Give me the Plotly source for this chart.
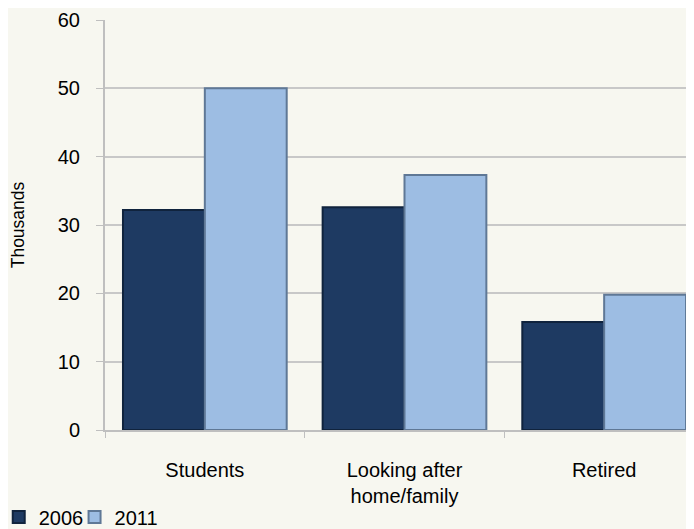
import plotly.graph_objects as go

categories = ["Students", "Looking after<br>home/family", "Retired"]
series_names = ["2006", "2011"]
values_2006 = [32.2, 32.6, 15.8]
values_2011 = [50.0, 37.3, 19.8]
y_ticks = [0, 10, 20, 30, 40, 50, 60]

fig = go.Figure()
fig.add_trace(go.Bar(
    name=series_names[0], x=categories, y=values_2006, legend="legend",
    marker=dict(color="#1e3a62", line=dict(color="#10233d", width=2)),
))
fig.add_trace(go.Bar(
    name=series_names[1], x=categories, y=values_2011, legend="legend2",
    marker=dict(color="#9dbde3", line=dict(color="#5f7896", width=2)),
))

font = "Liberation Sans, Arial, sans-serif"
legend_common = dict(orientation="h", xanchor="left", y=-0.212,
                     yanchor="middle", font=dict(size=20), itemwidth=30,
                     bgcolor="rgba(0,0,0,0)")
# the page body adds an 8px offset; margins compensate for it
fig.update_layout(
    width=694, height=529,
    margin=dict(l=97, r=0, t=12, b=107, autoexpand=False),
    paper_bgcolor="#f7f7f0", plot_bgcolor="#f7f7f0",
    barmode="group", bargap=0.18, bargroupgap=0,
    font=dict(family=font, size=20, color="#000000"),
    showlegend=True,
    legend=dict(x=-0.178, **legend_common),
    legend2=dict(x=-0.051, **legend_common),
    xaxis=dict(range=[-0.5, 2.49], tickson="boundaries", ticks="outside",
               ticklen=6, tickcolor="#bfbfbf", showline=True,
               linecolor="#bfbfbf", linewidth=2, showgrid=False,
               ticklabelstandoff=21, automargin=False,
               tickfont=dict(size=20)),
    yaxis=dict(range=[0, 60], tickvals=y_ticks, ticks="outside", ticklen=7,
               tickcolor="#bfbfbf", showline=True, linecolor="#bfbfbf",
               linewidth=2, gridcolor="#c8c8c8", gridwidth=1.5, zeroline=False,
               ticklabelstandoff=12, automargin=False,
               tickfont=dict(size=20),
               title=dict(text="Thousands", standoff=33, font=dict(size=17.5))),
)
fig.write_html("out.html")
